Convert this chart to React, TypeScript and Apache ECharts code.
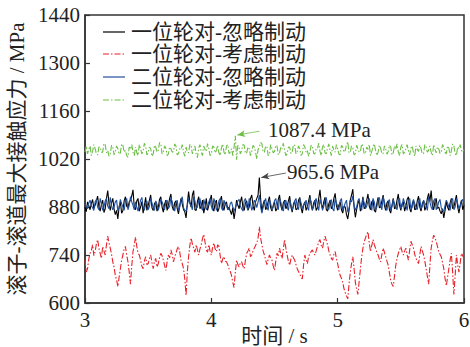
import React, { useEffect, useRef } from "react";
import * as echarts from "echarts";

const seriesNames = ["一位轮对-忽略制动", "一位轮对-考虑制动", "二位轮对-忽略制动", "二位轮对-考虑制动"];
const xTicks = [3, 4, 5, 6];
const yTicks = [600, 740, 880, 1020, 1160, 1300, 1440];
const tStart = 3;
const tStep = 0.01;

const wheel1Ignore = [
  880, 866, 895, 884, 872, 890, 902, 876, 885, 898, 912, 880, 868, 888, 900, 864, 875, 905, 928, 890,
  870, 892, 905, 874, 858, 870, 845, 880, 895, 862, 870, 898, 910, 882, 878, 895, 900, 912, 930, 880,
  872, 898, 905, 868, 880, 896, 862, 884, 908, 870, 885, 900, 915, 878, 870, 890, 895, 868, 878, 902,
  910, 880, 865, 888, 900, 870, 885, 905, 918, 882, 870, 892, 898, 875, 860, 885, 905, 888, 872, 866,
  848, 890, 925, 895, 880, 915, 928, 872, 870, 896, 910, 875, 882, 900, 862, 880, 905, 870, 885, 900,
  915, 878, 868, 892, 900, 866, 875, 898, 912, 880, 870, 890, 895, 872, 880, 868, 858, 878, 845, 870,
  900, 885, 875, 895, 910, 878, 870, 892, 898, 870, 880, 905, 915, 884, 870, 895, 905, 915, 965.6, 905,
  865, 888, 900, 872, 880, 896, 910, 878, 868, 885, 895, 868, 875, 902, 915, 884, 870, 892, 900, 875,
  882, 898, 912, 880, 865, 888, 898, 872, 875, 900, 908, 878, 862, 885, 895, 870, 880, 898, 915, 886,
  870, 892, 900, 870, 878, 905, 930, 890, 875, 895, 908, 872, 868, 890, 900, 875, 882, 905, 920, 884,
  870, 886, 895, 872, 862, 882, 880, 858, 845, 870, 900, 915, 932, 880, 850, 872, 890, 900, 868, 885,
  910, 875, 880, 900, 918, 882, 872, 895, 900, 870, 865, 890, 908, 878, 880, 898, 915, 885, 870, 892,
  898, 872, 862, 885, 905, 875, 878, 900, 918, 884, 870, 890, 895, 868, 882, 902, 910, 876, 865, 888,
  900, 872, 875, 898, 912, 880, 868, 890, 898, 870, 880, 905, 920, 896, 928, 885, 872, 895, 905, 876,
  880, 868, 860, 875, 848, 870, 895, 880, 870, 892, 905, 875, 880, 898, 915, 880, 862, 885, 900, 872,
  885,
];

const wheel1Brake = [
  725, 690, 700, 728, 745, 752, 770, 738, 750, 772, 785, 760, 745, 730, 765, 752, 740, 770, 795, 775,
  760, 742, 720, 705, 680, 668, 648, 675, 700, 725, 740, 758, 765, 740, 720, 690, 655, 708, 750, 770,
  792, 765, 745, 740, 725, 708, 700, 722, 735, 712, 715, 730, 740, 718, 700, 722, 730, 705, 715, 732,
  745, 738, 725, 710, 695, 720, 740, 732, 755, 742, 720, 735, 745, 758, 765, 748, 725, 715, 700, 670,
  622, 690, 735, 768, 790, 772, 760, 748, 770, 755, 740, 758, 770, 788, 800, 778, 755, 748, 770, 752,
  740, 762, 775, 758, 750, 770, 765, 738, 715, 728, 735, 722, 720, 712, 700, 692, 680, 660, 645, 690,
  725, 712, 705, 718, 720, 708, 700, 725, 745, 752, 760, 735, 740, 752, 760, 768, 775, 790, 822, 790,
  770, 752, 740, 725, 712, 728, 740, 730, 725, 708, 695, 722, 745, 738, 760, 742, 730, 758, 785, 760,
  740, 722, 710, 728, 740, 732, 725, 712, 700, 692, 685, 675, 670, 710, 740, 725, 715, 735, 745, 750,
  755, 745, 740, 752, 765, 778, 785, 768, 760, 780, 795, 782, 770, 752, 740, 730, 725, 742, 750, 730,
  715, 695, 680, 672, 660, 642, 630, 620, 612, 655, 690, 715, 735, 700, 660, 640, 625, 662, 700, 735,
  760, 778, 790, 800, 808, 775, 750, 768, 785, 770, 760, 748, 740, 728, 720, 742, 760, 748, 735, 722,
  710, 688, 665, 655, 648, 680, 710, 730, 745, 755, 765, 750, 740, 752, 760, 740, 725, 755, 780, 770,
  760, 742, 730, 722, 715, 740, 765, 752, 740, 722, 700, 678, 655, 708, 760, 782, 798, 790, 780, 765,
  750, 742, 735, 718, 700, 672, 650, 675, 700, 725, 745, 690, 625, 680, 740, 712, 690, 718, 745, 738,
  730,
];

const wheel2Ignore = [
  888, 880, 875, 892, 900, 884, 878, 870, 895, 902, 880, 872, 905, 890, 870, 880, 898, 905, 882, 875,
  908, 885, 872, 880, 895, 900, 868, 878, 902, 890, 880, 870, 898, 905, 872, 885, 910, 895, 885, 872,
  895, 880, 868, 884, 900, 908, 880, 870, 890, 898, 872, 882, 905, 892, 878, 870, 898, 888, 870, 885,
  902, 895, 885, 872, 895, 900, 875, 882, 908, 895, 880, 868, 892, 900, 870, 880, 900, 910, 878, 870,
  868, 885, 905, 890, 885, 872, 910, 898, 875, 880, 898, 905, 880, 870, 902, 888, 872, 880, 895, 905,
  882, 870, 905, 892, 870, 880, 898, 905, 878, 870, 900, 888, 885, 872, 875, 890, 895, 880, 868, 878,
  888, 898, 902, 882, 875, 868, 898, 905, 880, 872, 905, 890, 870, 882, 900, 892, 878, 895, 915, 880,
  862, 878, 895, 905, 880, 870, 902, 890, 872, 880, 898, 905, 885, 872, 905, 895, 875, 868, 895, 900,
  880, 870, 900, 888, 870, 882, 898, 905, 882, 872, 905, 892, 875, 885, 892, 900, 880, 870, 908, 895,
  872, 880, 898, 905, 885, 870, 902, 890, 870, 882, 900, 908, 880, 872, 895, 902, 875, 868, 905, 892,
  882, 872, 898, 905, 870, 880, 892, 900, 865, 875, 900, 895, 912, 885, 870, 880, 898, 905, 880, 870,
  905, 892, 875, 882, 898, 905, 882, 870, 905, 895, 872, 880, 900, 908, 885, 872, 910, 895, 878, 870,
  895, 902, 870, 882, 902, 890, 880, 872, 898, 905, 875, 882, 905, 892, 885, 870, 898, 905, 872, 880,
  902, 890, 880, 872, 895, 905, 875, 882, 900, 892, 885, 870, 908, 895, 880, 872, 898, 905, 872, 880,
  895, 902, 878, 870, 868, 885, 900, 892, 880, 870, 898, 905, 872, 880, 905, 890, 875, 882, 898, 902,
  885,
];

const wheel2Brake = [
  1040, 1058, 1035, 1048, 1058, 1030, 1042, 1062, 1050, 1036, 1032, 1055, 1055, 1040, 1040, 1065, 1062, 1038, 1045, 1028,
  1035, 1060, 1055, 1032, 1042, 1058, 1050, 1034, 1038, 1064, 1060, 1040, 1045, 1030, 1025, 1055, 1048, 1062, 1040, 1030,
  1055, 1038, 1030, 1062, 1050, 1035, 1042, 1066, 1058, 1032, 1038, 1055, 1050, 1028, 1035, 1060, 1055, 1040, 1045, 1068,
  1065, 1035, 1040, 1058, 1052, 1030, 1035, 1055, 1050, 1040, 1042, 1064, 1058, 1032, 1036, 1050, 1048, 1062, 1040, 1028,
  1055, 1040, 1038, 1062, 1060, 1035, 1045, 1058, 1035, 1024, 1052, 1062, 1040, 1030, 1058, 1048, 1042, 1065, 1050, 1030,
  1035, 1058, 1055, 1038, 1045, 1060, 1038, 1030, 1052, 1064, 1040, 1032, 1058, 1062, 1036, 1040, 1050, 1030, 1055, 1087.4,
  1018, 1060, 1052, 1035, 1045, 1062, 1060, 1036, 1038, 1055, 1050, 1030, 1042, 1060, 1055, 1040, 1020, 1048, 1055, 1068,
  1065, 1040, 1040, 1058, 1055, 1030, 1035, 1062, 1050, 1038, 1042, 1060, 1058, 1032, 1038, 1055, 1050, 1066, 1044, 1030,
  1035, 1055, 1055, 1036, 1040, 1062, 1060, 1035, 1042, 1058, 1050, 1030, 1036, 1062, 1055, 1040, 1045, 1028, 1040, 1060,
  1058, 1036, 1035, 1050, 1050, 1066, 1042, 1030, 1055, 1062, 1038, 1035, 1052, 1064, 1044, 1030, 1058, 1045, 1040, 1062,
  1050, 1034, 1032, 1060, 1055, 1040, 1045, 1062, 1070, 1038, 1040, 1058, 1052, 1032, 1036, 1060, 1050, 1040, 1042, 1064,
  1058, 1035, 1038, 1055, 1048, 1062, 1030, 1042, 1055, 1064, 1045, 1030, 1040, 1060, 1052, 1035, 1036, 1058, 1050, 1034,
  1042, 1060, 1055, 1032, 1038, 1058, 1048, 1064, 1040, 1030, 1055, 1062, 1035, 1040, 1050, 1062, 1044, 1032, 1052, 1058,
  1038, 1028, 1058, 1048, 1042, 1060, 1050, 1035, 1036, 1062, 1055, 1040, 1045, 1058, 1040, 1030, 1062, 1048, 1038, 1055,
  1050, 1036, 1042, 1062, 1055, 1040, 1035, 1058, 1052, 1030, 1044, 1064, 1058, 1036, 1030, 1055, 1050, 1062, 1045, 1040,
  1048,
];

const peakLabels = ["1087.4 MPa", "965.6 MPa"];

const colors = ["#000000", "#e8212a", "#1f4f9e", "#6cbf45"];
const FONT = "Liberation Serif, Noto Sans CJK SC";

function toPairs(vals: number[]) {
  return vals.map((v, i) => [+(tStart + i * tStep).toFixed(4), v]);
}

export default function App() {
  const ref = useRef<HTMLDivElement>(null);
  useEffect(() => {
    document.body.style.margin = "0";
    if (!ref.current) return;
    const chart = echarts.init(ref.current, undefined, { renderer: "svg" });
    const dashDot = [6, 2, 1.5, 2];
    const legendRows = [32, 54, 77, 100];
    const legendGraphics: any[] = [];
    seriesNames.forEach((name, k) => {
      legendGraphics.push({
        type: "line",
        shape: { x1: 103, y1: legendRows[k], x2: 125, y2: legendRows[k] },
        style: {
          stroke: colors[k],
          lineWidth: 1.2,
          lineDash: k === 1 || k === 3 ? dashDot : null,
        },
      });
      legendGraphics.push({
        type: "text",
        x: 131,
        y: legendRows[k],
        style: {
          text: name,
          fill: "#222",
          fontSize: 21,
          fontFamily: FONT,
          verticalAlign: "middle",
          align: "left",
        },
      });
    });
    const arrowLine = (from: number[], to: number[], color: string) => ({
      silent: true,
      symbol: ["none", "arrow"],
      symbolSize: [5, 8],
      label: { show: false },
      lineStyle: { color, width: 0.8, type: "solid" },
      data: [[{ coord: from }, { coord: to }]],
    });
    const labelPoint = (coord: number[], text: string) => ({
      silent: true,
      symbol: "circle",
      symbolSize: 0,
      label: {
        show: true,
        position: "right",
        distance: 0,
        formatter: text,
        color: "#222",
        fontSize: 21,
        fontFamily: FONT,
      },
      data: [{ coord }],
    });
    chart.setOption({
      animation: false,
      grid: {
        left: 85,
        right: 6,
        top: 15,
        bottom: 44,
        show: true,
        borderColor: "#333",
        borderWidth: 1.5,
        backgroundColor: "transparent",
        containLabel: false,
        outerBoundsMode: "none",
      },
      xAxis: {
        type: "value",
        min: xTicks[0],
        max: xTicks[xTicks.length - 1],
        interval: 1,
        name: "时间 / s",
        nameLocation: "middle",
        nameGap: 22,
        nameMoveOverlap: false,
        nameTextStyle: { fontSize: 21, fontFamily: FONT, color: "#222" },
        axisLine: { show: true, lineStyle: { color: "#333", width: 1.5 } },
        axisTick: { show: true, inside: true, length: 5, lineStyle: { color: "#333", width: 1.2 } },
        axisLabel: { fontSize: 21, fontFamily: FONT, color: "#222", margin: 6 },
        splitLine: { show: false },
      },
      yAxis: {
        type: "value",
        min: yTicks[0],
        max: yTicks[yTicks.length - 1],
        interval: 140,
        name: "滚子-滚道最大接触应力 / MPa",
        nameLocation: "middle",
        nameGap: 47,
        nameRotate: 90,
        nameTextStyle: { fontSize: 21, fontFamily: FONT, color: "#222" },
        axisLine: { show: true, lineStyle: { color: "#333", width: 1.5 } },
        axisTick: { show: true, inside: true, length: 5, lineStyle: { color: "#333", width: 1.2 } },
        axisLabel: {
          fontSize: 21,
          fontFamily: FONT,
          color: "#222",
          margin: 5,
          formatter: (v: number) => String(v),
        },
        splitLine: { show: false },
      },
      series: [
        {
          name: seriesNames[1],
          type: "line",
          data: toPairs(wheel1Brake),
          showSymbol: false,
          lineStyle: { color: colors[1], width: 1.1, type: dashDot },
          z: 2,
        },
        {
          name: seriesNames[3],
          type: "line",
          data: toPairs(wheel2Brake),
          showSymbol: false,
          lineStyle: { color: colors[3], width: 1.1, type: dashDot },
          markLine: arrowLine([4.38, 1101], [4.205, 1090], colors[3]),
          markPoint: labelPoint([4.449, 1104.6], peakLabels[0]),
          z: 3,
        },
        {
          name: seriesNames[0],
          type: "line",
          data: toPairs(wheel1Ignore),
          showSymbol: false,
          lineStyle: { color: colors[0], width: 1.1 },
          markLine: arrowLine([4.59, 979], [4.395, 966], "#444"),
          markPoint: labelPoint([4.599, 982], peakLabels[1]),
          z: 4,
        },
        {
          name: seriesNames[2],
          type: "line",
          data: toPairs(wheel2Ignore),
          showSymbol: false,
          lineStyle: { color: colors[2], width: 1.1 },
          z: 5,
        },
      ],
      graphic: legendGraphics,
    });
    return () => chart.dispose();
  }, []);
  return <div ref={ref} style={{ width: 470, height: 347 }} />;
}
